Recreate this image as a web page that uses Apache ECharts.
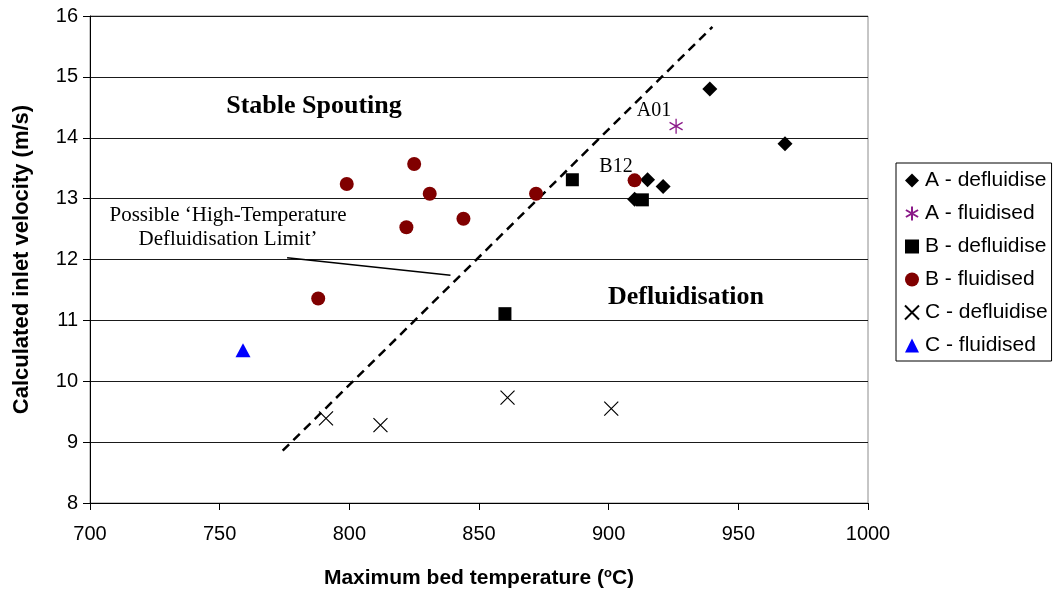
<!DOCTYPE html>
<html>
<head>
<meta charset="utf-8">
<script src="https://cdn.jsdelivr.net/npm/echarts@6/dist/echarts.min.js"></script>
<style>
  html, body { margin: 0; padding: 0; background: #fff; }
  #chart { width: 1055px; height: 591px; }
</style>
</head>
<body>
<div id="chart"></div>
<script>
// Measured points: [maximum bed temperature (°C), calculated inlet velocity (m/s)]
const aDefluidise = [[939, 14.8], [968, 13.9], [915, 13.31], [921, 13.2], [910, 12.99]];
const aFluidised = [[926, 14.19]];
const bDefluidise = [[886, 13.31], [913, 12.98], [860, 11.11]];
const bFluidised = [[825, 13.57], [799, 13.24], [831, 13.08], [872, 13.08], [844, 12.67],
                    [822, 12.53], [788, 11.36], [910, 13.3]];
const cDefluidise = [[791, 9.39], [812, 9.28], [861, 9.73], [901, 9.55]];
const cFluidised = [[759, 10.51]];

// Proposed high-temperature defluidisation boundary and its pointer
const limitLine = [[774.3, 8.86], [940, 15.82]];
const pointerLine = [[776, 12.03], [839, 11.74]];

const xTicks = [700, 750, 800, 850, 900, 950, 1000];
const yTicks = [8, 9, 10, 11, 12, 13, 14, 15, 16];

const SANS = 'Liberation Sans, Arial, sans-serif';
const SERIF = 'Liberation Serif, Times New Roman, serif';

const crossPath = 'path://M0,0 L20,20 M20,0 L0,20';
const starPath = 'path://M10,0 L10,20 M1.3,5 L18.7,15 M1.3,15 L18.7,5';

const chart = echarts.init(document.getElementById('chart'), null, { renderer: 'canvas' });

chart.setOption({
  animation: false,
  backgroundColor: '#fff',
  grid: {
    left: 90, right: 187, top: 16, bottom: 88,
    outerBoundsMode: 'none',
    containLabel: false,
    show: true, borderColor: '#8c8c8c', borderWidth: 1, backgroundColor: 'transparent'
  },
  xAxis: {
    type: 'value',
    min: xTicks[0], max: xTicks[xTicks.length - 1], interval: 50,
    name: 'Maximum bed temperature ({sup|o}C)',
    nameLocation: 'middle', nameGap: 64,
    nameTextStyle: {
      fontFamily: SANS, fontSize: 21, fontWeight: 'bold', color: '#000',
      rich: { sup: { fontFamily: SANS, fontSize: 13, fontWeight: 'bold', color: '#000', verticalAlign: 'top', padding: [0, 0, 10, 0] } }
    },
    axisLine: { show: true, onZero: false, lineStyle: { color: '#000', width: 1 } },
    axisTick: { show: true, inside: false, length: 7, lineStyle: { color: '#000' } },
    axisLabel: { fontFamily: SANS, fontSize: 20, color: '#000', margin: 21, formatter: v => String(v) },
    splitLine: { show: false }
  },
  yAxis: {
    type: 'value',
    min: yTicks[0], max: yTicks[yTicks.length - 1], interval: 1,
    name: 'Calculated inlet velocity (m/s)',
    nameLocation: 'middle', nameGap: 57,
    nameTextStyle: { fontFamily: SANS, fontSize: 22, fontWeight: 'bold', color: '#000' },
    axisLine: { show: true, onZero: false, lineStyle: { color: '#000', width: 1 } },
    axisTick: { show: true, inside: false, length: 7, lineStyle: { color: '#000' } },
    axisLabel: { fontFamily: SANS, fontSize: 20, color: '#000', margin: 12 },
    splitLine: { show: true, lineStyle: { color: '#1a1a1a', width: 1 } }
  },
  legend: {
    orient: 'vertical',
    left: 896, top: 163,
    padding: [7, 4, 5, 8],
    itemGap: 12,
    itemWidth: 14, itemHeight: 14,
    borderColor: '#000', borderWidth: 1,
    textStyle: { fontFamily: SANS, fontSize: 21, color: '#000', padding: [0, 0, 0, 1] },
    data: ['A - defluidise', 'A - fluidised', 'B - defluidise', 'B - fluidised', 'C - defluidise', 'C - fluidised']
  },
  series: [
    {
      name: 'A - defluidise', type: 'scatter', data: aDefluidise,
      symbol: 'diamond', symbolSize: 15,
      itemStyle: { color: '#000', opacity: 1 }
    },
    {
      name: 'A - fluidised', type: 'scatter', data: aFluidised,
      symbol: starPath, symbolSize: 15, symbolKeepAspect: true,
      itemStyle: { color: 'transparent', borderColor: '#8b1a89', borderWidth: 1.3, opacity: 1 }
    },
    {
      name: 'B - defluidise', type: 'scatter', data: bDefluidise,
      symbol: 'rect', symbolSize: 13,
      itemStyle: { color: '#000', opacity: 1 }
    },
    {
      name: 'B - fluidised', type: 'scatter', data: bFluidised,
      symbol: 'circle', symbolSize: 14,
      itemStyle: { color: '#800000', opacity: 1 }
    },
    {
      name: 'C - defluidise', type: 'scatter', data: cDefluidise,
      symbol: crossPath, symbolSize: 14,
      itemStyle: { color: 'transparent', borderColor: '#000', borderWidth: 1.2, opacity: 1 }
    },
    {
      name: 'C - fluidised', type: 'scatter', data: cFluidised,
      symbol: 'triangle', symbolSize: [15, 14],
      itemStyle: { color: '#0000ff', opacity: 1 }
    },
    {
      name: 'limit', type: 'line', data: limitLine,
      symbol: 'none', silent: true,
      lineStyle: { color: '#000', width: 2.5, type: [9, 6] },
      z: 1
    },
    {
      name: 'pointer', type: 'line', data: pointerLine,
      symbol: 'none', silent: true,
      lineStyle: { color: '#000', width: 1.5 },
      z: 1
    }
  ],
  graphic: [
    { type: 'text', x: 314, y: 106, style: { text: 'Stable Spouting', font: 'bold 26px ' + SERIF, fill: '#000', align: 'center', verticalAlign: 'middle' } },
    { type: 'text', x: 686, y: 297, style: { text: 'Defluidisation', font: 'bold 26px ' + SERIF, fill: '#000', align: 'center', verticalAlign: 'middle' } },
    { type: 'text', x: 228, y: 227, style: { text: 'Possible \u2018High-Temperature\nDefluidisation Limit\u2019', font: '21px ' + SERIF, lineHeight: 24, fill: '#000', align: 'center', verticalAlign: 'middle' } },
    { type: 'text', x: 654, y: 111, style: { text: 'A01', font: '20px ' + SERIF, fill: '#000', align: 'center', verticalAlign: 'middle' } },
    { type: 'text', x: 616, y: 167, style: { text: 'B12', font: '20px ' + SERIF, fill: '#000', align: 'center', verticalAlign: 'middle' } }
  ]
});
</script>
</body>
</html>
